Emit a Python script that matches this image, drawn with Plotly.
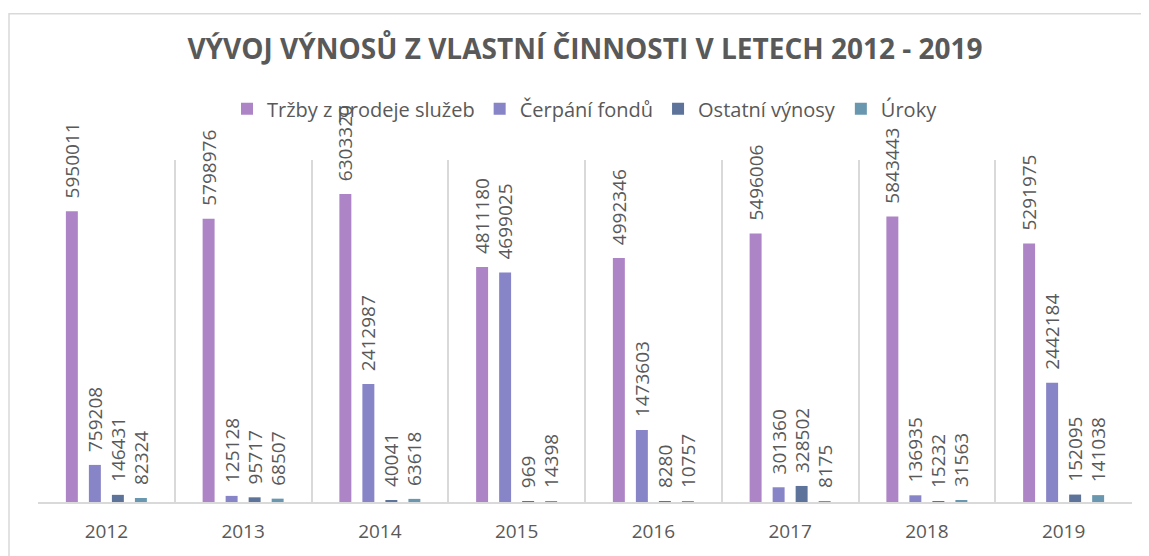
import plotly.graph_objects as go

years = ["2012", "2013", "2014", "2015", "2016", "2017", "2018", "2019"]
trzby = [5950011, 5798976, 6303320, 4811180, 4992346, 5496006, 5843443, 5291975]
cerpani = [759208, 125128, 2412987, 4699025, 1473603, 301360, 136935, 2442184]
ostatni = [146431, 95717, 40041, 969, 8280, 328502, 15232, 152095]
uroky = [82324, 68507, 63618, 14398, 10757, 8175, 31563, 141038]

series = [
    ("Tržby z prodeje služeb", trzby, "#AD84C6"),
    ("Čerpání fondů", cerpani, "#8784C7"),
    ("Ostatní výnosy", ostatni, "#5D739A"),
    ("Úroky", uroky, "#6997AF"),
]

TXT = "#595959"
GRID = "#D9D9D9"

# page body has an 8px default margin, so the figure is shrunk by 8px
W, H = 1141, 548

fig = go.Figure()
for name, vals, col in series:
    fig.add_trace(go.Bar(
        name=name, x=years, y=vals,
        marker=dict(color=col, line=dict(width=0)),
        text=["\u00a0\u00a0" + str(v) for v in vals],
        textposition="outside",
        textangle=-90,
        constraintext="none",
        cliponaxis=False,
        textfont=dict(family="Open Sans", size=19, color=TXT),
    ))

fig.update_layout(
    width=W, height=H,
    margin=dict(l=30, r=17, t=152, b=50),
    paper_bgcolor="white", plot_bgcolor="white",
    barmode="group", bargap=0.327, bargroupgap=0.48,
    title=dict(
        text="VÝVOJ VÝNOSŮ Z VLASTNÍ ČINNOSTI V LETECH 2012 - 2019",
        x=0.5, xref="paper", xanchor="center",
        y=1 - 41 / H, yanchor="middle",
        font=dict(family="Open Sans", size=28, color=TXT, weight="bold"),
    ),
    legend=dict(
        orientation="h", x=0.5, xanchor="center", y=1.15, yanchor="middle",
        font=dict(family="Open Sans", size=20, color=TXT),
        itemwidth=30, bgcolor="rgba(0,0,0,0)",
    ),
    showlegend=True,
    xaxis=dict(
        type="category", tickson="boundaries", showgrid=True,
        gridcolor=GRID, gridwidth=2, ticks="",
        showline=True, linecolor=GRID, linewidth=2,
        tickfont=dict(family="Open Sans", size=19, color=TXT),
        ticklabelstandoff=11,
    ),
    yaxis=dict(
        range=[0, 7000000], visible=False, showgrid=False, zeroline=False,
    ),
    shapes=[dict(
        type="rect", xref="paper", yref="paper",
        x0=-29 / 1094, x1=1.2, y0=-0.6, y1=494 / 346,
        line=dict(color=GRID, width=1.5), fillcolor="rgba(0,0,0,0)", layer="below",
    )],
)

fig.write_html("out.html")
